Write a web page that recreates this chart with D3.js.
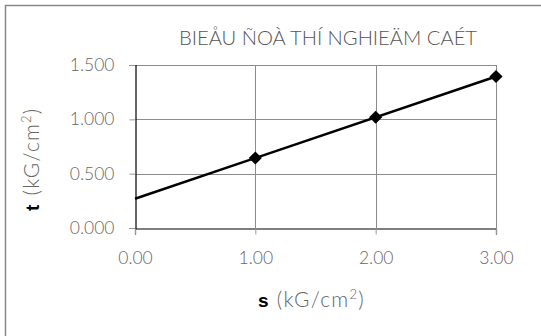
<!DOCTYPE html>
<html><head><meta charset="utf-8">
<script src="https://cdn.jsdelivr.net/npm/d3@7"></script>
<style>
html,body{margin:0;padding:0;background:#fff;}
svg text{font-family:"Lato","Open Sans",sans-serif;font-weight:300;}
</style></head>
<body><svg id="c" width="541" height="336"></svg>
<script>
const titleText = "BIEÅU ÑOÀ THÍ NGHIEÄM CAÉT";
const sigma = [1, 2, 3];
const tau = [0.644, 1.019, 1.394];
const trendX = [0, 3];
const trendY = [0.269, 1.394];
const xTicks = [0, 1, 2, 3];
const yTicks = [0, 0.5, 1.0, 1.5];

const svg = d3.select("#c");
const m = {l:135, t:65, r:496, b:228};
const x = d3.scaleLinear().domain([0,3]).range([m.l, m.r]);
const y = d3.scaleLinear().domain([0,1.5]).range([m.b, m.t]);

// outer frame
svg.append("rect").attr("x",5.5).attr("y",5.5).attr("width",560).attr("height",360)
  .attr("fill","none").attr("stroke","#888").attr("stroke-width",1.5);

// grid
const g = svg.append("g");
g.selectAll(".hg").data(yTicks.filter(d=>d>0)).join("line")
  .attr("x1",m.l).attr("x2",m.r).attr("y1",d=>Math.round(y(d))+0.5).attr("y2",d=>Math.round(y(d))+0.5)
  .attr("stroke","#8c8c8c").attr("stroke-width",1);
g.selectAll(".vg").data(xTicks.filter(d=>d>0)).join("line")
  .attr("y1",m.t).attr("y2",m.b).attr("x1",d=>Math.round(x(d))+0.5).attr("x2",d=>Math.round(x(d))+0.5)
  .attr("stroke","#8c8c8c").attr("stroke-width",1);

// axes
const xa = svg.append("g").attr("transform",`translate(0,${m.b+0.5})`)
  .call(d3.axisBottom(x).tickValues(xTicks).tickFormat(d3.format(".2f")).tickSize(6).tickPadding(17));
xa.select(".domain").attr("stroke","#000").attr("stroke-width",1.2);
xa.selectAll(".tick line").attr("stroke","#999");
xa.selectAll(".tick text").attr("fill","#666").attr("font-size",17.5)
  .style("font-family","Lato, sans-serif").style("font-weight",300);

const ya = svg.append("g").attr("transform",`translate(${m.l+0.5},0)`)
  .call(d3.axisLeft(y).tickValues(yTicks).tickFormat(d3.format(".3f")).tickSize(6).tickPadding(15));
ya.select(".domain").attr("stroke","#000").attr("stroke-width",1.2);
ya.selectAll(".tick line").attr("stroke","#999");
ya.selectAll(".tick text").attr("fill","#666").attr("font-size",17.5)
  .style("font-family","Lato, sans-serif").style("font-weight",300);

// trend line
const line = d3.line().x((d,i)=>x(trendX[i])).y(d=>y(d));
svg.append("path").datum(trendY).attr("d",line).attr("fill","none")
  .attr("stroke","#000").attr("stroke-width",2.5);

// markers
svg.selectAll(".pt").data(sigma).join("path")
  .attr("transform",(d,i)=>`translate(${x(d)},${y(tau[i])})`)
  .attr("d",d3.symbol().type(d3.symbolDiamond2).size(110))
  .attr("fill","#000");

// title
svg.append("text").attr("x",179).attr("y",45).attr("fill","#555")
  .attr("font-size",20).attr("textLength",298).attr("lengthAdjust","spacingAndGlyphs")
  .text(titleText);

// x label
const xl = svg.append("text").attr("x",258).attr("y",307)
  .attr("font-size",21).attr("fill","#666").attr("letter-spacing",1.2);
xl.append("tspan").text("s").attr("fill","#000").style("font-weight",700).attr("font-family","Arial").attr("font-size",19);
xl.append("tspan").text("(kG/cm").attr("dx",7);
xl.append("tspan").text("2").attr("font-size",13).attr("dy",-8);
xl.append("tspan").text(")").attr("dy",8);

// y label
const yl = svg.append("text").attr("transform","translate(39,211) rotate(-90)")
  .attr("font-size",21).attr("fill","#666").attr("letter-spacing",1.2);
yl.append("tspan").text("t").attr("fill","#000").style("font-weight",700).attr("font-family","Arial").attr("font-size",19);
yl.append("tspan").text("(kG/cm").attr("dx",8);
yl.append("tspan").text("2").attr("font-size",13).attr("dy",-8);
yl.append("tspan").text(")").attr("dy",8);
</script></body></html>
